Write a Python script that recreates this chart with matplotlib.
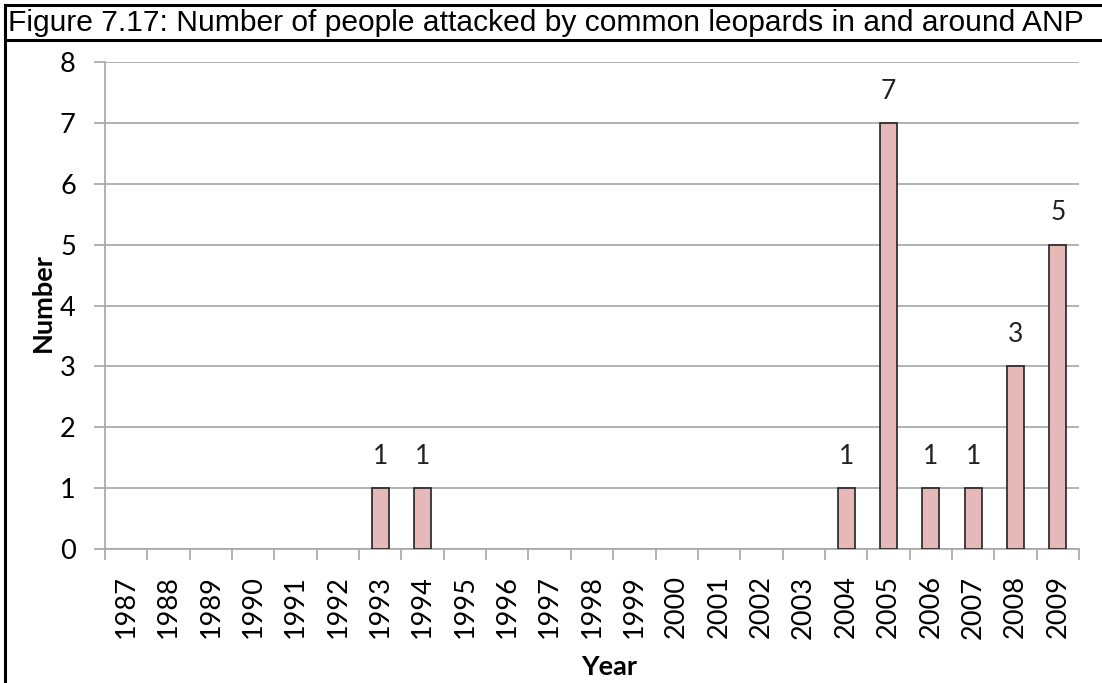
import matplotlib
matplotlib.use("Agg")
import matplotlib.pyplot as plt
from matplotlib.lines import Line2D

years = [str(y) for y in range(1987, 2010)]
attacks = [0, 0, 0, 0, 0, 0, 1, 1, 0, 0, 0, 0, 0, 0, 0, 0, 0, 1, 7, 1, 1, 3, 5]
title = "Figure 7.17: Number of people attacked by common leopards in and around ANP"

W, H = 1102, 683
fig = plt.figure(figsize=(W / 100, H / 100), dpi=100)
fig.patch.set_facecolor("white")

# caption box lines
lw = 2.2
fig.add_artist(Line2D([5 / W, 1], [1 - 5 / H, 1 - 5 / H], color="black", lw=lw, transform=fig.transFigure))
fig.add_artist(Line2D([5 / W, 1], [1 - 40 / H, 1 - 40 / H], color="black", lw=lw, transform=fig.transFigure))
fig.add_artist(Line2D([5 / W, 5 / W], [0, 1 - 5 / H], color="black", lw=lw, transform=fig.transFigure))
fig.text(8 / W, 1 - 23 / H, title, fontsize=21.6, family="Liberation Sans", va="center", ha="left")

ax = fig.add_axes([105 / W, 1 - 549 / H, (1079 - 105) / W, (549 - 62) / H])
x = list(range(len(years)))
edge_w = [1.2 if v > 0 else 0 for v in attacks]
ax.bar(x, attacks, width=0.4, color="#E6B9B8", edgecolor="#222222", linewidth=edge_w, zorder=3)

font = "Lato"
for xi, v in zip(x, attacks):
    if v > 0:
        ax.text(xi, v + 0.4, str(v), ha="center", va="baseline", fontsize=19, family=font, color="#222222")

ax.set_xlim(-0.5, len(years) - 0.5)
ax.set_ylim(0, 8)
ax.set_yticks(range(0, 9))
ax.yaxis.grid(True, color="#A6A6A6", lw=1.2, zorder=0)
ax.set_xticks(x)
ax.set_xticklabels(years, rotation=90, fontsize=19.5, family=font)
ax.tick_params(axis="x", length=0, pad=19)
ax.set_xticks([i - 0.5 for i in range(len(years) + 1)], minor=True)
ax.tick_params(axis="x", which="minor", length=8, color="#A6A6A6", width=1.2)
ax.tick_params(axis="y", length=8, color="#A6A6A6", width=1.2, labelsize=19.5, pad=13)
for lab in ax.get_yticklabels():
    lab.set_family(font)

for s in ["top", "right"]:
    ax.spines[s].set_visible(False)
for s in ["left", "bottom"]:
    ax.spines[s].set_color("#A6A6A6")
    ax.spines[s].set_linewidth(1.2)

fig.text(43 / W, 1 - 303 / H, "Number", rotation=90, fontsize=19.5, fontweight="bold", family=font, va="center", ha="center")
fig.text(609 / W, 1 - 667 / H, "Year", fontsize=19.5, fontweight="bold", family=font, va="center", ha="center")

fig.savefig("out.png", dpi=100)
